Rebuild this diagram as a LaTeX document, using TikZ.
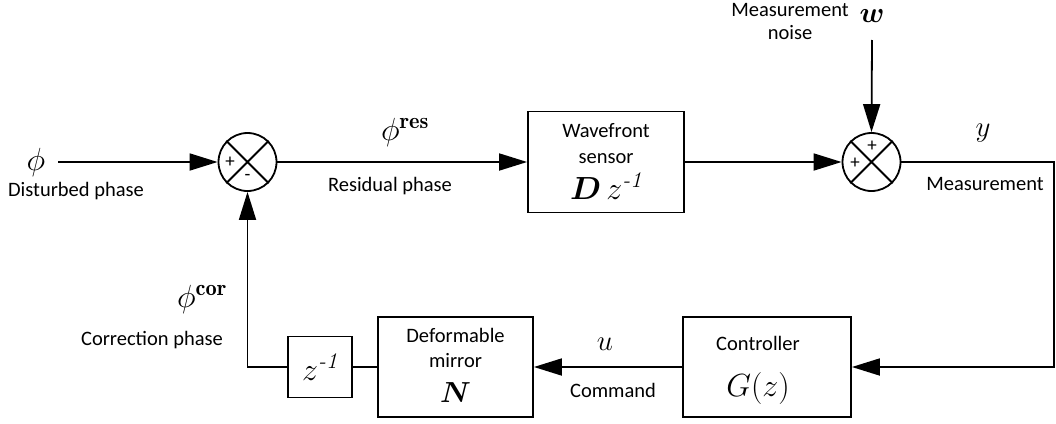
\RequirePackage{fix-cm}
\documentclass[tikz,border=0pt]{standalone}
\usepackage{fontspec}
\usepackage{amsmath,bm}
\usetikzlibrary{arrows.meta}
\newfontfamily\carl{Carlito}
\begin{document}
\begin{tikzpicture}[x=1pt,y=-1pt,
  lbl/.style={font=\carl\fontsize{20.5}{24}\selectfont, inner sep=0},
  sgn/.style={font=\carl\fontsize{19}{21}\selectfont, inner sep=0},
  mth/.style={font=\fontsize{29}{32}\selectfont, inner sep=0},
  big/.style={font=\fontsize{32}{36}\selectfont, inner sep=0},
  blk/.style={draw, line width=1.8pt, inner sep=0},
  sum/.style={draw, circle, minimum size=58pt, inner sep=0, line width=1.8pt},
  arr/.style={-{Triangle[length=28pt,width=17pt]}, line width=1.8pt},
  ln/.style={line width=1.8pt}]
\useasboundingbox (0,0) rectangle (1056,423);

% blocks
\node[blk, minimum width=156pt, minimum height=101pt] (wfs) at (606,162) {};
\node[blk, minimum width=168pt, minimum height=100pt] (ctrl) at (767,367) {};
\node[blk, minimum width=155pt, minimum height=100pt] (dm) at (455.5,367) {};
\node[blk, minimum width=64pt, minimum height=61pt] (zb) at (320,367) {};

% summing junctions
\node[sum] (s1) at (247.5,162) {};
\node[sum] (s2) at (871.5,162) {};
\draw[ln] (s1.45) -- (s1.225) (s1.135) -- (s1.315);
\draw[ln] (s2.45) -- (s2.225) (s2.135) -- (s2.315);
\node[sgn] (s1p) at (230,162) {+};
\node[sgn] (s1m) at (247.5,177) {-};
\node[sgn] (s2t) at (872,146) {+};
\node[sgn] (s2l) at (855,163) {+};

% block texts
\node[lbl, anchor=base] (wfs1) at (606,137) {Wavefront};
\node[lbl, anchor=base] (wfs2) at (606,163) {sensor};
\node[big, anchor=base] (wfs3) at (606,199) {$\bm{D}\,z^{\textit{-1}}$};
\node[lbl, anchor=base] (ctrl1) at (758,350) {Controller};
\node[big, anchor=base] (ctrl2) at (758,396) {$G(z)$};
\node[lbl, anchor=base] (dm1) at (455.5,342) {Deformable};
\node[lbl, anchor=base] (dm2) at (455.5,367) {mirror};
\node[mth, anchor=base] (dm3) at (455.5,402) {$\bm{N}$};
\node[big] (zbt) at (320,367) {$z^{\textit{-1}}$};

% signal labels
\node[big] (phi) at (36,162) {$\phi$};
\node[lbl] (phil) at (76,191) {Disturbed phase};
\node[big] (phires) at (405,132) {$\phi^{\mathbf{res}}$};
\node[lbl] (resl) at (390,186) {Residual phase};
\node[big] (phicor) at (202,299) {$\phi^{\mathbf{cor}}$};
\node[lbl] (corl) at (152,340) {Correction phase};
\node[mth] (yl) at (983,133) {$y$};
\node[lbl] (meas) at (985,184) {Measurement};
\node[mth] (wl) at (872,16) {$\bm{w}$};
\node[lbl] (noise1) at (790,10) {Measurement};
\node[lbl] (noise2) at (790,33) {noise};
\node[mth] (ul) at (605,344) {$u$};
\node[lbl] (cmd) at (613,390) {Command};

% connectors
\coordinate (phiin) at (58,162);
\coordinate (wtop) at (872,40);
\coordinate (rc) at (1054,162);
\draw[arr] (phiin) -- (s1.west);
\draw[arr] (s1.east) -- (wfs.west);
\draw[arr] (wfs.east) -- (s2.west);
\draw[arr] (wtop) -- (s2.north);
\draw[arr] (s2.east) -- (rc) |- (ctrl.east);
\draw[arr] (ctrl.west) -- (dm.east);
\draw[ln] (dm.west) -- (zb.east);
\draw[arr] (zb.west) -| (s1.south);
\end{tikzpicture}
\end{document}
